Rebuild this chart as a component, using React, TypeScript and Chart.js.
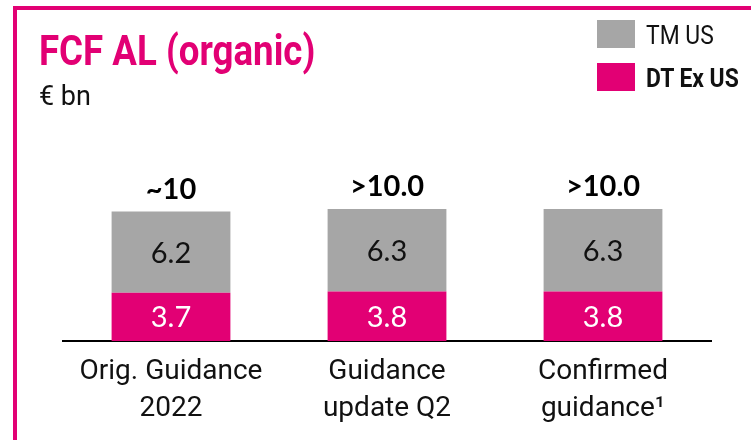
import React, { useEffect, useRef } from "react";
import { Chart, registerables } from "chart.js";

Chart.register(...registerables);

const categories: string[][] = [
  ["Orig. Guidance", "2022"],
  ["Guidance", "update Q2"],
  ["Confirmed", "guidance¹"],
];
const dtExUS: number[] = [3.7, 3.8, 3.8];
const tmUS: number[] = [6.2, 6.3, 6.3];
const totalLabels: string[] = ["~10", ">10.0", ">10.0"];
const seriesNames: string[] = ["DT Ex US", "TM US"];

const MAGENTA = "#E20074";
const GRAY = "#A6A6A6";

const valueLabelPlugin = {
  id: "valueLabels",
  afterDatasetsDraw(chart: any) {
    const ctx = chart.ctx;
    ctx.save();
    ctx.textAlign = "center";
    ctx.textBaseline = "alphabetic";
    chart.data.datasets.forEach((ds: any, di: number) => {
      const meta = chart.getDatasetMeta(di);
      meta.data.forEach((el: any, i: number) => {
        const { x, y, base } = el.getProps(["x", "y", "base"], true);
        const mid = (y + base) / 2;
        ctx.font = "400 29px Lato";
        ctx.fillStyle = di === 0 ? "#FFFFFF" : "#111111";
        ctx.fillText(Number(ds.data[i]).toFixed(1), x, mid + 10.5);
      });
    });
    const last = chart.getDatasetMeta(chart.data.datasets.length - 1);
    last.data.forEach((el: any, i: number) => {
      const { x, y } = el.getProps(["x", "y"], true);
      ctx.font = "700 29px Lato";
      ctx.fillStyle = "#000000";
      ctx.fillText(totalLabels[i], x, y - 13);
    });
    ctx.restore();
  },
};

export default function App() {
  const canvasRef = useRef<HTMLCanvasElement | null>(null);

  useEffect(() => {
    if (!canvasRef.current) return;
    const chart = new Chart(canvasRef.current, {
      type: "bar",
      data: {
        labels: categories,
        datasets: [
          {
            label: seriesNames[0],
            data: dtExUS,
            backgroundColor: MAGENTA,
            borderWidth: 0,
          },
          {
            label: seriesNames[1],
            data: tmUS,
            backgroundColor: GRAY,
            borderWidth: 0,
          },
        ],
      },
      options: {
        animation: false,
        responsive: false,
        maintainAspectRatio: false,
        devicePixelRatio: 1,
        layout: { padding: { left: 63, right: 40, top: 158, bottom: 0 } },
        plugins: {
          legend: { display: false },
          title: { display: false },
          tooltip: { enabled: false },
        },
        datasets: {
          bar: { barPercentage: 0.55, categoryPercentage: 1 },
        },
        scales: {
          x: {
            stacked: true,
            grid: { display: false, drawTicks: false },
            border: { display: true, color: "#000000", width: 2 },
            ticks: {
              color: "#111111",
              font: { family: "Roboto", size: 28, lineHeight: 1.32 },
              padding: 12.5,
              maxRotation: 0,
              autoSkip: false,
            },
          },
          y: {
            stacked: true,
            display: false,
            min: 0,
            max: 14,
          },
        },
      },
      plugins: [valueLabelPlugin],
    });
    return () => chart.destroy();
  }, []);

  const legendItems = [
    { name: seriesNames[1], color: GRAY, bold: false, top: 20 },
    { name: seriesNames[0], color: MAGENTA, bold: true, top: 63 },
  ];

  return (
    <div
      style={{
        position: "fixed",
        left: 0,
        top: 0,
        width: 751,
        height: 440,
        background: "#FFFFFF",
        overflow: "hidden",
      }}
    >
      <div
        style={{
          position: "absolute",
          left: 13,
          top: 6,
          width: 751,
          height: 440,
          borderTop: `4px solid ${MAGENTA}`,
          borderLeft: `4px solid ${MAGENTA}`,
          boxSizing: "border-box",
        }}
      />
      <canvas
        ref={canvasRef}
        width={751}
        height={440}
        style={{ position: "absolute", left: 0, top: 0, width: 751, height: 440 }}
      />
      <div
        style={{
          position: "absolute",
          left: 39,
          top: 29.5,
          fontFamily: "Roboto, sans-serif",
          fontWeight: 700,
          fontSize: 42,
          lineHeight: "42px",
          color: MAGENTA,
          whiteSpace: "nowrap",
          transform: "scaleX(0.873)",
          transformOrigin: "0 0",
        }}
      >
        FCF AL (organic)
      </div>
      <div
        style={{
          position: "absolute",
          left: 39,
          top: 83,
          fontFamily: "Roboto, sans-serif",
          fontSize: 27,
          lineHeight: "27px",
          color: "#111111",
          whiteSpace: "nowrap",
        }}
      >
        € bn
      </div>
      {legendItems.map((it) => (
        <div key={it.name}>
          <div
            style={{
              position: "absolute",
              left: 597,
              top: it.top,
              width: 38,
              height: 28,
              background: it.color,
            }}
          />
          <div
            style={{
              position: "absolute",
              left: 646,
              top: it.top + 2.3,
              fontFamily: "Roboto, sans-serif",
              fontWeight: it.bold ? 700 : 400,
              fontSize: 26,
              lineHeight: "26px",
              color: "#111111",
              whiteSpace: "nowrap",
              transform: "scaleX(0.88)",
              transformOrigin: "0 0",
            }}
          >
            {it.name}
          </div>
        </div>
      ))}
    </div>
  );
}
